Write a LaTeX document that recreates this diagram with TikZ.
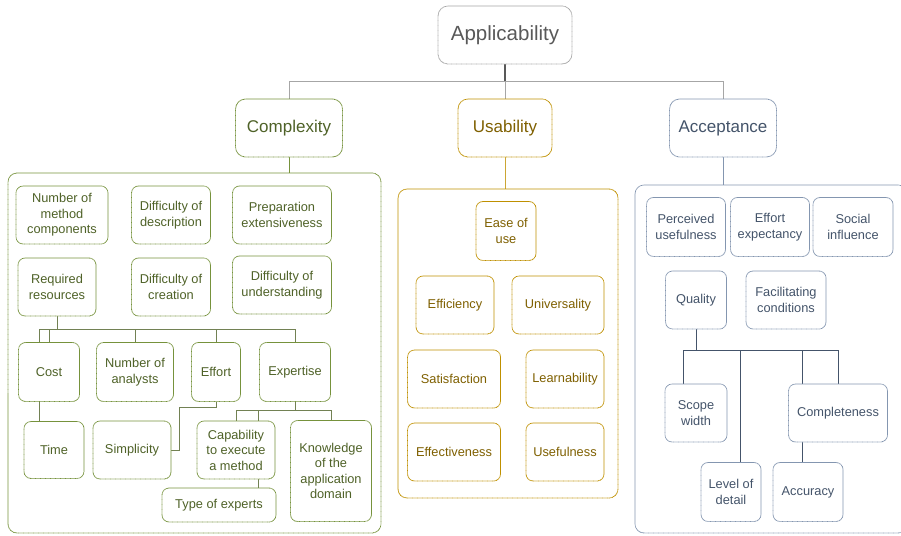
\documentclass[tikz,border=0pt]{standalone}
\usepackage{fontspec}
\setmainfont{Liberation Sans}
\usetikzlibrary{backgrounds}
\definecolor{apptext}{HTML}{595959}
\definecolor{appline}{HTML}{A6A6A6}
\definecolor{cpxtext}{HTML}{4F6228}
\definecolor{cpxline}{HTML}{76923C}
\definecolor{usatext}{HTML}{7F6000}
\definecolor{usaline}{HTML}{BF9000}
\definecolor{acptext}{HTML}{44546A}
\definecolor{acpline}{HTML}{8496B0}
\begin{document}
\begin{tikzpicture}[x=1pt,y=-1pt,
  box/.style={rounded corners=7pt,dash pattern=on .8pt off .45pt,line width=.8pt,
    fill=white,align=center,inner sep=0pt,font=\fontsize{12.8}{15.5}\selectfont},
  sz/.style 2 args={minimum width=#1pt,minimum height=#2pt},
  head/.style={box,rounded corners=10pt,font=\fontsize{17}{20}\selectfont},
  grp/.style={rounded corners=9pt,dash pattern=on .8pt off .45pt,line width=.8pt,inner sep=0pt},
  cbox/.style={box,draw=cpxline,text=cpxtext},
  ubox/.style={box,draw=usaline,text=usatext},
  abox/.style={box,draw=acpline,text=acptext},
  clink/.style={draw=cpxtext!80,line width=1pt},
  alink/.style={draw=acptext,line width=1pt}]
\useasboundingbox (0,0) rectangle (901,535);
% top levels
\node[head,draw=appline,text=apptext,sz={134}{58},font=\fontsize{20.5}{24}\selectfont] (app) at (505,35) {Applicability};
\node[head,draw=cpxline,text=cpxtext,sz={107}{58}] (cpx) at (289,128) {Complexity};
\node[head,draw=usaline,text=usatext,sz={94}{58}] (usa) at (505,128) {Usability};
\node[head,draw=acpline,text=acptext,sz={107}{58}] (acpt) at (723,128) {Acceptance};
% groups
\node[grp,draw=cpxline,sz={373}{360}] (cpxgrp) at (194.5,353) {};
\node[grp,draw=usaline,sz={220}{309}] (usagrp) at (508,343.5) {};
\node[grp,draw=acpline,sz={272}{348}] (acpgrp) at (771,359) {};
% complexity
\node[cbox,sz={92}{58}] (nmc) at (62,215) {Number of\\method\\components};
\node[cbox,sz={79}{58}] (dod) at (171,215) {Difficulty of\\description};
\node[cbox,sz={99}{58}] (prep) at (282,215) {Preparation\\extensiveness};
\node[cbox,sz={78}{58}] (rr) at (57,287) {Required\\resources};
\node[cbox,sz={79}{58}] (doc) at (171,287) {Difficulty of\\creation};
\node[cbox,sz={99}{58}] (dou) at (282,285) {Difficulty of\\understanding};
\node[cbox,sz={61}{59}] (cost) at (49,372) {Cost};
\node[cbox,sz={77}{59}] (nana) at (135,372) {Number of\\analysts};
\node[cbox,sz={49}{59}] (effort) at (216,372) {Effort};
\node[cbox,sz={71}{59}] (exp) at (295,372) {Expertise};
\node[cbox,sz={60}{57}] (time) at (54,450) {Time};
\node[cbox,sz={78}{58}] (simp) at (132,450) {Simplicity};
\node[cbox,sz={78}{58}] (cap) at (236,450) {Capability\\to execute\\a method};
\node[cbox,sz={81}{101}] (know) at (331,471) {Knowledge\\of the\\application\\domain};
\node[cbox,sz={114}{34}] (type) at (219,505) {Type of experts};
% usability
\node[ubox,sz={60}{59}] (ease) at (506,231) {Ease of\\use};
\node[ubox,sz={78}{58}] (eff) at (455,305) {Efficiency};
\node[ubox,sz={92}{58}] (univ) at (558,305) {Universality};
\node[ubox,sz={93}{58}] (sat) at (454,379) {Satisfaction};
\node[ubox,sz={78}{58}] (learn) at (565,379) {Learnability};
\node[ubox,sz={93}{58}] (effness) at (454,452) {Effectiveness};
\node[ubox,sz={78}{58}] (usef) at (565,452) {Usefulness};
% acceptance
\node[abox,sz={79}{59}] (pu) at (686,227) {Perceived\\usefulness};
\node[abox,sz={79}{59}] (ee) at (770,227) {Effort\\expectancy};
\node[abox,sz={80}{59}] (si) at (853,227) {Social\\influence};
\node[abox,sz={61}{58}] (qual) at (696,300) {Quality};
\node[abox,sz={80}{58}] (fc) at (786,300) {Facilitating\\conditions};
\node[abox,sz={62}{58}] (scope) at (696,413) {Scope\\width};
\node[abox,sz={99}{58}] (compl) at (838,413) {Completeness};
\node[abox,sz={60}{59}] (lod) at (731,492) {Level of\\detail};
\node[abox,sz={70}{59}] (acc) at (808,492) {Accuracy};
\begin{pgfonlayer}{background}
% connectors
\draw[apptext,line width=1.5pt] (app.south) -- ++(0,17) coordinate (appbus);
\draw[appline,line width=1pt] (cpx.north) |- (appbus) -| (acpt.north);
\draw[appline,line width=1pt] (appbus) -- (usa.north);
\draw[cpxline,line width=1pt] (cpx.south) -- (cpx.south |- cpxgrp.north);
\draw[usaline!80,line width=1pt] (usa.south) -- (usa.south |- usagrp.north);
\draw[acpline,line width=1pt] (acpt.south) -- (acpt.south |- acpgrp.north);
\draw[clink] (rr.south) -- ++(0,13) coordinate (rrbus);
\draw[clink] (rrbus) -| ([xshift=-15pt]time.north);
\draw[clink] (rrbus) -| (cost.north);
\draw[clink] (rrbus) -| (nana.north);
\draw[clink] (rrbus) -| (effort.north);
\draw[clink] (rrbus) -| (exp.north);
\draw[clink] (effort.south) -- ++(0,6) -| ([xshift=8pt]simp.east) -- (simp.east);
\draw[clink] (exp.south) -- ++(0,9) coordinate (expbus);
\draw[clink] (expbus) -| (cap.north);
\draw[clink] (expbus) -| (know.north);
\draw[clink] (expbus) -| ([xshift=39pt]type.north);
\draw[alink] (qual.south) -- ++(0,21) coordinate (qbus);
\draw[alink] (qbus) -| ([xshift=-13pt]scope.north);
\draw[alink] (qbus) -| ([xshift=9pt]lod.north);
\draw[alink] (qbus) -| ([xshift=-6pt]acc.north);
\draw[alink] (qbus) -| (compl.north);
\end{pgfonlayer}
\end{tikzpicture}
\end{document}
